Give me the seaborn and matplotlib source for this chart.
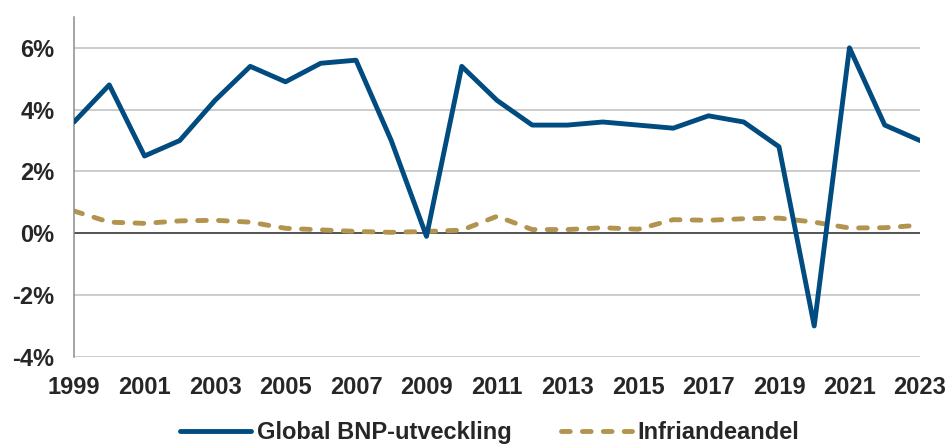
import matplotlib
matplotlib.use("Agg")
import matplotlib.pyplot as plt
import seaborn as sns
import pandas as pd
from matplotlib.ticker import FuncFormatter

years = list(range(1999, 2024))
gdp_growth = [3.6, 4.8, 2.5, 3.0, 4.3, 5.4, 4.9, 5.5, 5.6, 3.0, -0.1, 5.4, 4.3,
              3.5, 3.5, 3.6, 3.5, 3.4, 3.8, 3.6, 2.8, -3.0, 6.0, 3.5, 3.0]
infriande = [0.72, 0.36, 0.32, 0.40, 0.42, 0.36, 0.16, 0.11, 0.06, 0.03, 0.06,
             0.10, 0.55, 0.12, 0.12, 0.18, 0.13, 0.44, 0.42, 0.47, 0.49, 0.36,
             0.17, 0.18, 0.26]
series_names = ["Global BNP-utveckling", "Infriandeandel"]

df = pd.DataFrame({"year": years, series_names[0]: gdp_growth,
                   series_names[1]: infriande})

sns.set_theme(style="white")
plt.rcParams["font.family"] = ["Liberation Sans", "DejaVu Sans"]

fig = plt.figure(figsize=(9.49, 4.45), dpi=100)
ax = fig.add_axes([0.078, 0.198, 0.8914, 0.764])

ax.axhline(0, color="#404040", lw=1.2, zorder=1)
sns.lineplot(data=df, x="year", y=series_names[0], ax=ax, color="#004B7F",
             lw=3.5, label=series_names[0], solid_capstyle="round", zorder=3)
sns.lineplot(data=df, x="year", y=series_names[1], ax=ax, color="#B3944F",
             lw=3.5, label=series_names[1], zorder=2)
ax.lines[-1].set_dashes([1.8, 2.5])
ax.lines[-1].set_dash_capstyle("round")

ax.set_xlim(1999, 2023)
ax.set_ylim(-4, 7)
ax.set_xticks(years[::2])
ax.set_yticks([-4, -2, 0, 2, 4, 6])
ax.yaxis.set_major_formatter(FuncFormatter(lambda v, p: f"{v:.0f}%"))
ax.set_xlabel("")
ax.set_ylabel("")
ax.grid(axis="y", color="#BFBFBF", lw=1.1)
ax.set_axisbelow(True)
for s in ["top", "right", "bottom"]:
    ax.spines[s].set_visible(False)
ax.spines["left"].set_color("#8C8C8C")
ax.spines["left"].set_linewidth(1.1)
ax.tick_params(axis="both", length=0, labelsize=17)
ax.tick_params(axis="y", pad=14)
ax.tick_params(axis="x", pad=14)
for lbl in ax.get_xticklabels() + ax.get_yticklabels():
    lbl.set_fontweight("bold")

ax.legend_.remove()
handles, labels = ax.get_legend_handles_labels()
leg = fig.legend(handles, labels, loc="center", bbox_to_anchor=(0.516, 0.028),
                 ncol=2, frameon=False, handlelength=3.0, columnspacing=2.1,
                 handletextpad=0.25, borderpad=0.0,
                 prop={"weight": "bold", "size": 17})
for h in leg.legend_handles:
    h.set_linewidth(3.5)

fig.savefig("out.png", dpi=100)
